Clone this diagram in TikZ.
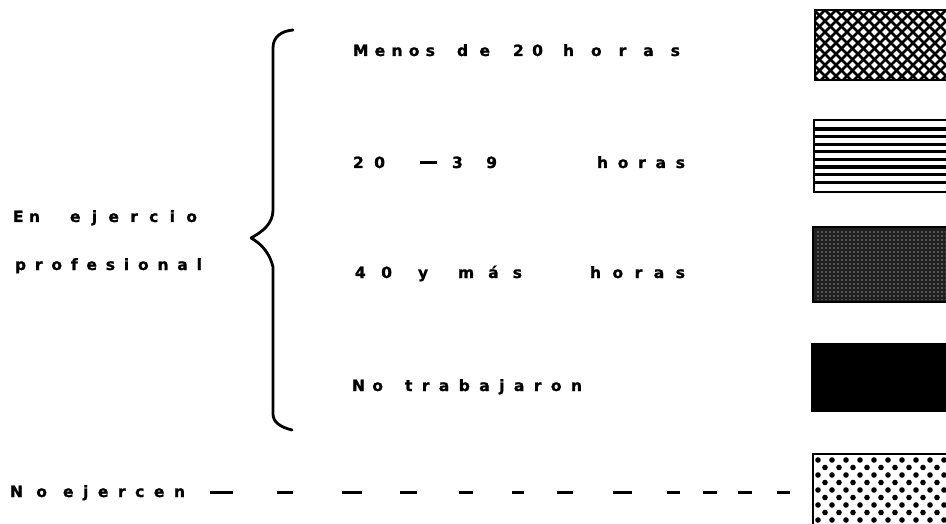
\documentclass[tikz,border=0pt]{standalone}
\usepackage{fontspec}
\setmainfont{DejaVu Sans}[BoldFeatures={FakeBold=1.2}]
\newcommand\spw[2]{\makebox[#1pt][s]{#2}}
\newcommand\gp[1]{\hspace*{#1pt}}
\begin{document}
\begin{tikzpicture}[x=1pt,y=-1pt,
  lbl/.style={inner sep=0pt,outer sep=0pt,anchor=base west,font=\fontsize{15.5}{18}\selectfont\bfseries},
  bracepath/.style={line width=2.8pt,line cap=round,line join=round},
  swatchbox/.style={line width=2pt},
  dashline/.style={line width=3pt,dash pattern=on 23pt off 44pt on 16pt off 49pt on 20pt off 38pt on 17pt off 42pt on 14pt off 39pt on 12pt off 33pt on 16pt off 40pt on 19pt off 35pt on 13pt off 23pt on 14pt off 21pt on 14pt off 25pt on 13pt off 30pt}]
\useasboundingbox (0,0) rectangle (946,524);
\fill[white] (0,0) rectangle (946,524);

% labels
\node[lbl] (l1) at (353,56) {\spw{82}{M\hfil e\hfil n\hfil o\hfil s}\gp{22}\spw{33}{d\hfil e}\gp{23}\spw{30}{2\hfil 0}\gp{20}\spw{117}{h\hfil o\hfil r\hfil a\hfil s}};
\node[lbl] (l2) at (353,168) {\spw{32}{2\hfil 0}\gp{35}\rule[4pt]{17pt}{2.8pt}\gp{15}\spw{45}{3\hfil 9}\gp{100}\spw{88}{h\hfil o\hfil r\hfil a\hfil s}};
\node[lbl] (l3) at (355,278) {\spw{37}{4\hfil 0}\gp{26}\spw{12}{y}\gp{28}\spw{64}{m\hfil á\hfil s}\gp{68}\spw{95}{h\hfil o\hfil r\hfil a\hfil s}};
\node[lbl] (l4) at (352,391) {\spw{31}{N\hfil o}\gp{22}\spw{177}{t\hfil r\hfil a\hfil b\hfil a\hfil j\hfil a\hfil r\hfil o\hfil n}};
\node[lbl] (e1) at (13,222) {\spw{27}{E\hfil n}\gp{30}\spw{127}{e\hfil j\hfil e\hfil r\hfil c\hfil i\hfil o}};
\node[lbl] (e2) at (15,270) {\spw{187}{p\hfil r\hfil o\hfil f\hfil e\hfil s\hfil i\hfil o\hfil n\hfil a\hfil l}};
\node[lbl] (ne) at (10,497) {\spw{37}{N\hfil o}\gp{16}\spw{122}{e\hfil j\hfil e\hfil r\hfil c\hfil e\hfil n}};

% brace
\draw[bracepath] (293,30) .. controls (281,31) and (273,37) .. (273,48) -- (273,210)
  .. controls (273,224) and (262,232) .. (251,238)
  .. controls (262,244) and (270,254) .. (273,267) -- (273,414)
  .. controls (273,422) and (280,427) .. (292,430);

% swatch 1: diamond lattice
\begin{scope}
\clip (815,10) rectangle (946,80);
\foreach \c in {-100,-89,...,200}{
  \draw[line width=2.7pt] (815+\c,10) -- ++(90,90);
  \draw[line width=2.7pt] (815+\c,10) -- ++(-90,90);
}
\end{scope}
\draw[swatchbox] (948,10) -- (815,10) -- (815,80) -- (948,80);
\node[inner sep=0pt] (s1) at (880,45) {};

% swatch 2: horizontal lines
\begin{scope}
\clip (814,120) rectangle (946,192);
\foreach \k in {0,...,7}{
  \draw[line width=3.3pt] (814,129+7.6*\k) -- (946,129+7.6*\k);
}
\end{scope}
\draw[swatchbox] (948,120) -- (814,120) -- (814,192) -- (948,192);
\node[inner sep=0pt] (s2) at (880,156) {};

% swatch 3: dark speckled
\fill[black!88] (813,227) rectangle (946,302);
\begin{scope}
\clip (816,230) rectangle (946,299);
\foreach \xx in {818,822,...,946}{
  \foreach \yy in {232,236,...,300}{
    \fill[black!45] (\xx,\yy) circle (0.8);
  }
}
\end{scope}
\draw[swatchbox] (948,227) -- (813,227) -- (813,302) -- (948,302);
\node[inner sep=0pt] (s3) at (880,264) {};

% swatch 4: solid black
\fill (811,343) rectangle (946,412);
\node[inner sep=0pt] (s4) at (880,378) {};

% swatch 5: dots
\begin{scope}
\clip (813,454) rectangle (946,524);
\foreach \r in {0,...,10}{
  \foreach \cc in {0,...,10}{
    \pgfmathsetmacro\px{818+14*\cc+7*mod(\r,2)}
    \pgfmathsetmacro\py{460+7.5*\r}
    \fill (\px,\py) circle (2.8);
  }
}
\end{scope}
\draw[swatchbox] (948,454) -- (813,454) -- (813,526);
\node[inner sep=0pt] (s5) at (880,488) {};

% dashed leader
\coordinate (ds) at (210,492);
\coordinate (de) at (790,492);
\draw[dashline] (ds) -- (de);
\end{tikzpicture}
\end{document}
